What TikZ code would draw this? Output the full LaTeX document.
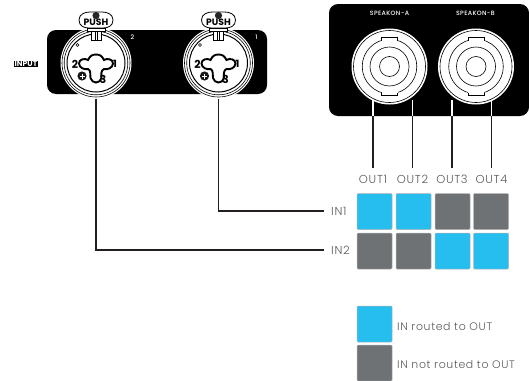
\documentclass[tikz,border=0pt]{standalone}
\usepackage{fontspec}
\setmainfont{Poppins Light}[LetterSpace=6]
\newfontfamily\boldf{Poppins Bold}
\newfontfamily\medf{Poppins Medium}[LetterSpace=6]
\definecolor{cellblue}{HTML}{26BDEF}
\definecolor{cellgray}{HTML}{6F7274}
\definecolor{txtgray}{HTML}{58595B}
\definecolor{panel}{HTML}{000000}
\definecolor{wirec}{HTML}{231F20}
\tikzset{
  x=1pt,y=-1pt,
  on/.style={cell,fill=cellblue},
  off/.style={cell,fill=cellgray},
  cell/.style={draw=black!30,line width=.5pt,rounded corners=1pt,minimum width=35pt,minimum height=36pt,inner sep=0pt},
  wire/.style={draw=wirec,line width=1.5pt},
  whitewire/.style={draw=white,line width=1.5pt},
  lab/.style={text=txtgray,font=\fontsize{11.5}{12}\selectfont,inner sep=0pt},
  legendtxt/.style={text=txtgray,font=\fontsize{10.9}{12}\selectfont,inner sep=0pt},
  paneltxt/.style={text=white,font=\medf\fontsize{6.2}{7}\selectfont,inner sep=0pt},
  ring/.style={draw=black,line width=.6pt},
  pics/xlrjack/.style={code={
    \fill[white] (0,0) circle (35.5);
    \draw[ring] (0,0) circle (34);
    \draw[ring] (0,0) circle (31.8);
    \draw[ring,line width=1pt] (0,0) circle (29);
    % push tab
    \draw[black,fill=white,line width=.8pt] (-7,-35) .. controls (-12,-35) and (-17,-37) .. (-17,-43)
      .. controls (-17,-49) and (-11,-51) .. (-6,-51) -- (6,-51)
      .. controls (11,-51) and (17,-49) .. (17,-43)
      .. controls (17,-37) and (12,-35) .. (7,-35) -- cycle;
    \fill[black!85] (0,-47.5) circle (3.6);
    \node[inner sep=0pt,text=black,font=\boldf\fontsize{9.2}{9}\selectfont] at (0,-40.5) {PUSH};
    % latch
    \draw[black,fill=white,line width=.8pt] (-9,-35) rectangle (9,-31.5);
    \draw[black,fill=white,line width=.8pt] (-5,-31.5) rectangle (5,-22.5);
    \draw[black,line width=.6pt] (-1,-31.5) -- (-1,-23) (1,-31.5) -- (1,-23);
    % xlr outline
    \draw[black,line width=1.9pt,fill=white]
      (-8,-3) .. controls (-6,-7) and (-4,-8.5) .. (0,-8.5)
      .. controls (4,-8.5) and (6,-7) .. (8,-3)
      .. controls (11,-5) and (17,-4) .. (17,0.5)
      .. controls (17,5) and (11,7) .. (8,6)
      .. controls (5,7) and (5,12) .. (5.5,15)
      .. controls (4,21) and (-4,21) .. (-5.5,15)
      .. controls (-6,12) and (-5,7) .. (-8,6)
      .. controls (-11,7) and (-17,5) .. (-17,0.5)
      .. controls (-17,-4) and (-11,-5) .. (-8,-3) -- cycle;
    \node[inner sep=0pt,text=black,font=\boldf\fontsize{11}{11}\selectfont] at (-21,1) {2};
    \node[inner sep=0pt,text=black,font=\boldf\fontsize{10}{10}\selectfont] at (19,1) {1};
    \node[inner sep=0pt,text=black,font=\boldf\fontsize{11}{11}\selectfont] at (7,16.5) {3};
    \fill[black!90] (-14,13) circle (4.6);
    \draw[white,line width=.4pt] (-16.5,13) -- (-11.5,13) (-14,10.5) -- (-14,15.5);
    \draw[black,line width=.6pt,fill=white] (-18.5,-18) circle (1.5);
  }},
  pics/speakon/.style={code={
    \fill[white] (0,0) circle (38);
    \draw[ring] (0,0) circle (36);
    \draw[ring] (0,0) circle (27.3);
    \fill[white] (-8,-29) rectangle (8,-25);
    \fill[white] (-8,29) rectangle (8,25);
    \draw[ring] (-8,-26) -- (-8,-29) -- (8,-29) -- (8,-26);
    \draw[ring] (-8,26) -- (-8,29) -- (8,29) -- (8,26);
    \draw[ring] (0,0) circle (19.5);
    \draw[ring] (0,0) circle (10);
  }}
}
\begin{document}
\begin{tikzpicture}
\useasboundingbox (0,0) rectangle (529,380);
% input panel
\fill[panel,rounded corners=9pt] (47,30) rectangle (267,94);
\pic at (96,63) {xlrjack};
\pic at (218.5,63) {xlrjack};
\node[paneltxt,anchor=center] (n2) at (132.5,37.5) {2};
\node[paneltxt,anchor=center] (n1) at (256.5,37.5) {1};
\node[fill=black,text=white,inner xsep=1.2pt,inner ysep=.8pt,font=\boldf\fontsize{7.6}{8}\selectfont] (input) at (26,64) {INPUT};
% speakon panel
\fill[panel,rounded corners=9pt] (329,4) -- (529,4) -- (529,116) -- (329,116) -- cycle;
\pic at (389.5,66.5) {speakon};
\pic at (476,66.5) {speakon};
\node[paneltxt] (spa) at (389.5,13.5) {SPEAKON-A};
\node[paneltxt] (spb) at (475.5,13.5) {SPEAKON-B};
% out labels
\node[lab] (out1) at (373,179) {OUT1};
\node[lab] (out2) at (412.5,179) {OUT2};
\node[lab] (out3) at (452,179) {OUT3};
\node[lab] (out4) at (491.5,179) {OUT4};
% grid
\node[on]  (c11) at (374.5,211.5) {};
\node[on]  (c12) at (413.5,211.5) {};
\node[off] (c13) at (452.5,211.5) {};
\node[off] (c14) at (491,211.5) {};
\node[off] (c21) at (374.5,251) {};
\node[off] (c22) at (413.5,251) {};
\node[on]  (c23) at (452.5,251) {};
\node[on]  (c24) at (491,251) {};
\node[lab,anchor=west] (in1) at (331,211) {IN1};
\node[lab,anchor=west] (in2) at (331,250) {IN2};
% speakon wires
\coordinate (a1) at (373,100);
\coordinate (a2) at (412.5,100);
\coordinate (a3) at (452,100);
\coordinate (a4) at (491.5,100);
\coordinate (b1) at (373,116);
\coordinate (b2) at (412.5,116);
\coordinate (b3) at (452,116);
\coordinate (b4) at (491.5,116);
\coordinate (e1) at (373,168);
\coordinate (e2) at (412.5,168);
\coordinate (e3) at (452,168);
\coordinate (e4) at (491.5,168);
\foreach \p in {1,2,3,4}{
  \draw[whitewire] (a\p) -- (b\p);
  \draw[wire] (b\p) -- (e\p);
}
% input wires
\coordinate (j1) at (218.5,98.5);
\coordinate (j2) at (96,98.5);
\draw[wire] (j1) |- ([xshift=-7pt]in1.west);
\draw[wire] (j2) |- ([xshift=-7pt]in2.west);
% legend
\node[on]  (l1) at (374.5,324) {};
\node[off] (l2) at (374.5,363) {};
\node[legendtxt,anchor=west] (t1) at (397,327) {IN routed to OUT};
\node[legendtxt,anchor=west] (t2) at (397,365) {IN not routed to OUT};
\end{tikzpicture}
\end{document}
